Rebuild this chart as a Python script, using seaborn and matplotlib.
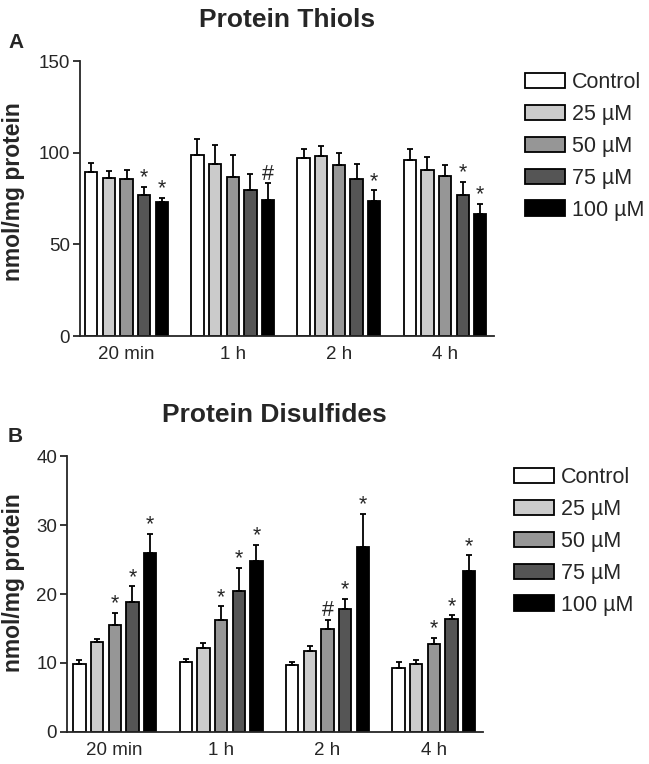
import pandas as pd
import matplotlib.pyplot as plt
import seaborn as sns

times = ["20 min", "1 h", "2 h", "4 h"]
doses = ["Control", "25 \u00b5M", "50 \u00b5M", "75 \u00b5M", "100 \u00b5M"]
colors = ["#ffffff", "#cbcbcb", "#969696", "#555555", "#000000"]

# protein thiols (nmol/mg protein), one list per dose over the 4 times
thiol_ctrl = [89.5, 98.6, 97.2, 96.2]
thiol_25 = [86.3, 94.1, 98.4, 90.4]
thiol_50 = [85.7, 86.8, 93.5, 87.4]
thiol_75 = [77.2, 79.7, 85.9, 76.8]
thiol_100 = [73.4, 74.5, 73.9, 66.7]
thiol_err_ctrl = [5.0, 8.7, 5.0, 5.9]
thiol_err_25 = [3.6, 10.3, 5.3, 7.1]
thiol_err_50 = [4.7, 11.8, 6.2, 6.1]
thiol_err_75 = [4.0, 9.0, 7.8, 7.5]
thiol_err_100 = [1.8, 8.8, 5.6, 5.4]
thiol_sig_75 = ["*", "", "", "*"]
thiol_sig_100 = ["*", "#", "*", "*"]

# protein disulfides (nmol/mg protein)
disul_ctrl = [9.8, 10.2, 9.7, 9.3]
disul_25 = [13.1, 12.2, 11.8, 9.8]
disul_50 = [15.5, 16.2, 14.9, 12.8]
disul_75 = [18.9, 20.5, 17.8, 16.4]
disul_100 = [26.0, 24.8, 26.8, 23.3]
disul_err_ctrl = [0.7, 0.4, 0.5, 0.9]
disul_err_25 = [0.4, 0.7, 0.7, 0.6]
disul_err_50 = [1.8, 2.0, 1.4, 0.8]
disul_err_75 = [2.2, 3.3, 1.5, 0.5]
disul_err_100 = [2.7, 2.3, 4.8, 2.3]
disul_sig_50 = ["*", "*", "#", "*"]
disul_sig_75 = ["*", "*", "*", "*"]
disul_sig_100 = ["*", "*", "*", "*"]

sns.set_style("ticks")
plt.rcParams["font.family"] = ["Liberation Sans", "DejaVu Sans"]


def make_df(series):
    rows = []
    for dose, vals in zip(doses, series):
        for t, v in zip(times, vals):
            rows.append({"time": t, "dose": dose, "value": v})
    return pd.DataFrame(rows)


def panel(ax, means, errs, sigs, ymax, step, title, xlim, label_xy):
    df = make_df(means)
    sns.barplot(data=df, x="time", y="value", hue="dose", palette=colors,
                edgecolor="black", linewidth=1.3, width=0.83, gap=0.3,
                saturation=1, ax=ax)
    for cont, err, sig in zip(ax.containers, errs, sigs):
        for bar, e, s in zip(cont, err, sig):
            x = bar.get_x() + bar.get_width() / 2
            h = bar.get_height()
            ax.errorbar(x, h, yerr=[[0], [e]], fmt="none", ecolor="black",
                        elinewidth=1.3, capsize=2.5, capthick=1.3)
            if s:
                ax.annotate(s, (x, h + e), xytext=(0, -1), textcoords="offset points",
                            ha="center", va="bottom", fontsize=15.5)
    ax.set_ylim(0, ymax)
    ax.set_yticks(range(0, ymax + 1, step))
    ax.set_xlim(*xlim)
    ax.set_xlabel("")
    ax.set_ylabel("nmol/mg protein", fontsize=16.5, fontweight="bold")
    ax.yaxis.set_label_coords(*label_xy)
    ax.tick_params(axis="x", length=0, labelsize=13.5, pad=7)
    ax.tick_params(axis="y", length=5, width=1.3, labelsize=13.5, pad=2)
    for sp in ["left", "bottom"]:
        ax.spines[sp].set_linewidth(1.3)
    sns.despine(ax=ax)
    ax.set_title(title, fontsize=19, fontweight="bold", pad=24.5)
    handles, labels = ax.get_legend_handles_labels()
    ax.legend(handles, labels, loc="upper left", bbox_to_anchor=(1.055, 0.99),
              frameon=False, fontsize=15.5, handlelength=1.85, handleheight=0.7,
              labelspacing=0.5, handletextpad=0.3, borderaxespad=0)
    return ax


fig = plt.figure(figsize=(6.49, 7.64), dpi=100)
ax1 = fig.add_axes([0.123, 0.560, 0.638, 0.360])
ax2 = fig.add_axes([0.103, 0.042, 0.641, 0.361])

panel(ax1,
      [thiol_ctrl, thiol_25, thiol_50, thiol_75, thiol_100],
      [thiol_err_ctrl, thiol_err_25, thiol_err_50, thiol_err_75, thiol_err_100],
      [[""] * 4, [""] * 4, [""] * 4, thiol_sig_75, thiol_sig_100],
      150, 50, "Protein Thiols", (-0.44, 3.46), (-0.133, 0.524))
panel(ax2,
      [disul_ctrl, disul_25, disul_50, disul_75, disul_100],
      [disul_err_ctrl, disul_err_25, disul_err_50, disul_err_75, disul_err_100],
      [[""] * 4, [""] * 4, disul_sig_50, disul_sig_75, disul_sig_100],
      40, 10, "Protein Disulfides", (-0.45, 3.46), (-0.101, 0.54))

fig.text(8 / 649, 1 - 43 / 764, "A", fontsize=15, fontweight="bold", va="center")
fig.text(8 / 649, 1 - 437 / 764, "B", fontsize=15, fontweight="bold", va="center")

fig.savefig("out.png", dpi=100)
